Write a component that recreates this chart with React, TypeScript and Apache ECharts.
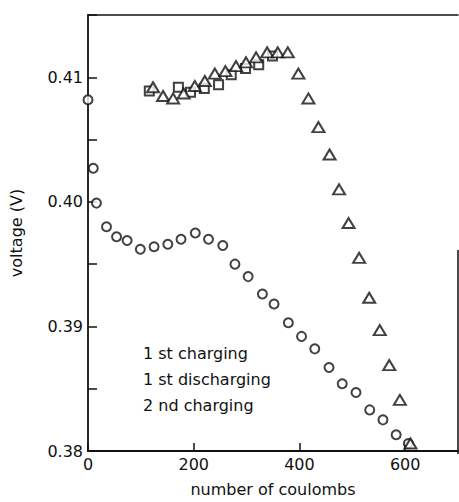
import React, { useEffect, useRef } from "react";
import * as echarts from "echarts";

const seriesNames = ["1 st charging", "1 st discharging", "2 nd charging"];

// 1st charging (squares)
const chargeX = [116, 171, 194, 220, 247, 271, 298, 323, 349];
const chargeY = [0.4089, 0.4092, 0.4088, 0.4091, 0.4094, 0.4102, 0.4107, 0.411, 0.4117];

// 1st discharging (circles)
const dischargeX = [0, 10, 16, 35, 54, 74, 99, 125, 151, 176, 203, 228, 255, 278, 303, 330, 352, 379, 404, 429, 456, 481, 507, 533, 558, 583, 606];
const dischargeY = [0.4082, 0.4027, 0.3999, 0.398, 0.3972, 0.3969, 0.3962, 0.3964, 0.3966, 0.397, 0.3975, 0.397, 0.3965, 0.395, 0.394, 0.3926, 0.3918, 0.3903, 0.3892, 0.3882, 0.3867, 0.3854, 0.3847, 0.3833, 0.3825, 0.3813, 0.3806];

// 2nd charging (triangles)
const charge2X = [123, 142, 161, 181, 202, 221, 240, 260, 280, 299, 318, 339, 359, 378, 398, 417, 436, 457, 475, 493, 513, 532, 552, 570, 590, 610];
const charge2Y = [0.4092, 0.4085, 0.4083, 0.4087, 0.4093, 0.4097, 0.4103, 0.4105, 0.4109, 0.4112, 0.4116, 0.412, 0.412, 0.412, 0.4103, 0.4083, 0.406, 0.4038, 0.401, 0.3983, 0.3955, 0.3923, 0.3897, 0.3869, 0.3841, 0.3806];

const xTicks = [0, 200, 400, 600];
const yLabelValues = [0.38, 0.39, 0.4, 0.41];

const zip = (xs: number[], ys: number[]) => xs.map((x, i) => [x, ys[i]]);

const FONT = "DejaVu Sans";

export default function App() {
  const ref = useRef<HTMLDivElement>(null);
  useEffect(() => {
    if (!ref.current) return;
    const chart = echarts.init(ref.current, null, { renderer: "svg" });
    const markerStyle = { color: "#fff", borderColor: "#111", borderWidth: 2 };
    chart.setOption({
      animation: false,
      backgroundColor: "#fff",
      grid: { left: 87, right: 1, top: 15, bottom: 48 },
      legend: {
        orient: "vertical",
        left: 138,
        top: 344,
        padding: 0,
        itemWidth: 0,
        itemHeight: 18,
        itemGap: 9,
        selectedMode: false,
        itemStyle: { opacity: 0, borderWidth: 0 },
        textStyle: { fontFamily: FONT, fontSize: 16, color: "#111" },
        data: seriesNames,
      },
      xAxis: [
        {
          type: "value",
          min: 0,
          max: 700,
          interval: 200,
          name: "number of coulombs",
          nameLocation: "middle",
          nameGap: 30,
          nameTextStyle: { fontFamily: FONT, fontSize: 16, color: "#111" },
          axisLine: { lineStyle: { color: "#111", width: 1.8 } },
          axisTick: { inside: true, length: 8, lineStyle: { color: "#111", width: 1.5 } },
          axisLabel: {
            showMaxLabel: false,
            margin: 5,
            fontFamily: FONT,
            fontSize: 16,
            color: "#111",
            formatter: (v: number) => (xTicks.includes(v) ? String(v) : ""),
          },
          splitLine: { show: false },
        },
        {
          type: "value",
          position: "top",
          min: 0,
          max: 700,
          axisLine: { show: true, lineStyle: { color: "#111", width: 1.5 } },
          axisTick: { show: false },
          axisLabel: { show: false },
          splitLine: { show: false },
        },
      ],
      yAxis: {
        type: "value",
        min: 0.38,
        max: 0.415,
        interval: 0.005,
        name: "voltage (V)",
        nameLocation: "middle",
        nameGap: 64,
        nameTextStyle: { fontFamily: FONT, fontSize: 16, color: "#111" },
        axisLine: { show: true, lineStyle: { color: "#111", width: 1.8 } },
        axisTick: { inside: true, length: 9, lineStyle: { color: "#111", width: 1.5 } },
        axisLabel: {
          margin: 5,
          fontFamily: FONT,
          fontSize: 16,
          color: "#111",
          formatter: (v: number) =>
            yLabelValues.some((t) => Math.abs(t - v) < 1e-6) ? v.toFixed(2) : "",
        },
        splitLine: { show: false },
      },
      graphic: [
        {
          type: "line",
          shape: { x1: 458, y1: 250, x2: 458, y2: 454 },
          style: { stroke: "#111", lineWidth: 1.5 },
        },
      ],
      series: [
        {
          name: seriesNames[0],
          type: "scatter",
          symbol: "rect",
          symbolSize: 9,
          itemStyle: markerStyle,
          data: zip(chargeX, chargeY),
          z: 2,
        },
        {
          name: seriesNames[1],
          type: "scatter",
          symbol: "circle",
          symbolSize: 9,
          itemStyle: markerStyle,
          data: zip(dischargeX, dischargeY),
          z: 3,
        },
        {
          name: seriesNames[2],
          type: "scatter",
          symbol: "triangle",
          symbolSize: [12, 10],
          itemStyle: markerStyle,
          data: zip(charge2X, charge2Y),
          z: 4,
        },
      ],
    });
    return () => chart.dispose();
  }, []);
  return (
    <div
      ref={ref}
      style={{ position: "fixed", left: 0, top: 0, width: 459, height: 502 }}
    />
  );
}
